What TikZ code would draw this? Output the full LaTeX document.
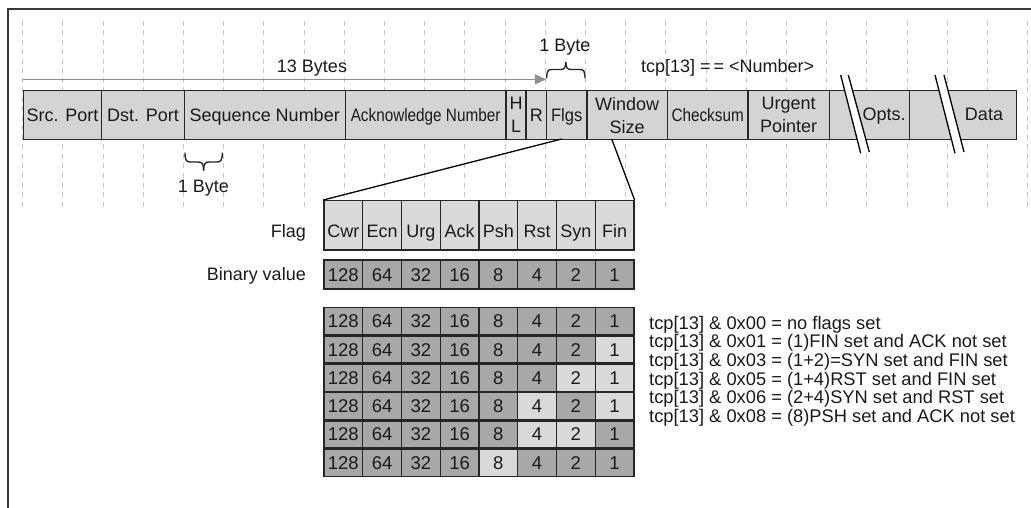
\documentclass[tikz,border=0pt]{standalone}
\usepackage{graphicx}
\usepackage{fontspec}
\setmainfont{Liberation Sans}
\usetikzlibrary{arrows.meta}
\definecolor{barfill}{HTML}{D4D4D4}
\definecolor{lightcell}{HTML}{D9D9D9}
\definecolor{darkcell}{HTML}{A8A8A8}
\definecolor{gridc}{HTML}{C6C6C6}
\definecolor{edge}{HTML}{262626}
\definecolor{arrowc}{HTML}{8E8E8E}
\definecolor{txt}{HTML}{1A1A1A}
\definecolor{framec}{HTML}{3A3A3A}
\newcommand\mainsz{\fontsize{18}{23}\selectfont}
\newcommand\numsz{\fontsize{18.5}{22}\selectfont}
\newcommand\listsz{\fontsize{18.3}{18.75}\selectfont}
\newcommand\narrowtxt[2]{\scalebox{#1}[1]{#2}}
\begin{document}
\begin{tikzpicture}[x=1pt,y=-1pt,
  gridline/.style={draw=gridc, line width=1.1pt, dash pattern=on 5pt off 4.5pt},
  barcell/.style={draw=edge, line width=1.4pt, fill=barfill, anchor=north west, minimum height=49pt, inner sep=0pt, align=center, font=\mainsz, text=txt},
  single/.style={text height=12.9pt, text depth=0pt},
  flagcell/.style={draw=edge, line width=1.3pt, fill=lightcell, anchor=north west, minimum width=38.75pt, minimum height=49.3pt, inner sep=0pt, font=\mainsz, text=txt, text height=36.5pt, text depth=12pt},
  bincell/.style={draw=edge, line width=1.3pt, anchor=north west, minimum width=38.75pt, minimum height=29pt, inner sep=0pt, font=\numsz, text=txt, text height=13.2pt, text depth=0pt},
  rowcell/.style={bincell, minimum height=27pt},
  plaintext/.style={font=\mainsz, text=txt, inner sep=0pt},
  listtext/.style={font=\listsz, text=txt, inner sep=0pt, anchor=base west},
  connector/.style={draw=black, line width=1.3pt},
  brk/.style={draw=black, line width=1.3pt},
  bracepath/.style={draw=edge, line width=1.4pt},
  grayarrow/.style={draw=arrowc, line width=1.3pt, -{Triangle[length=11pt,width=10pt]}}
]
\useasboundingbox (0,0) rectangle (1031,508);

% frame
\draw[framec, line width=2pt] (8,508) -- (8,9) -- (1031,9);

% dashed grid
\foreach \i in {0,...,25}
  \draw[gridline] ({22.7+40.2*\i},21) -- ({22.7+40.2*\i},207);

% header bar
\node[barcell, single, minimum width=78.3pt] (src) at (22.7,90) {Src. Port};
\node[barcell, single, minimum width=82.6pt] (dst) at (101,90) {Dst. Port};
\node[barcell, single, minimum width=160.9pt] (seq) at (183.6,90) {Sequence Number};
\node[barcell, single, minimum width=160.8pt] (ack) at (344.5,90) {\narrowtxt{0.85}{Acknowledge Number}};
\node[barcell, minimum width=20.1pt] (hl) at (505.3,90) {H\\L};
\node[barcell, single, minimum width=20.5pt] (rsv) at (525.4,90) {R};
\node[barcell, single, minimum width=40.3pt] (flgs) at (545.9,90) {\narrowtxt{0.92}{Flgs}};
\node[barcell, minimum width=80.4pt] (win) at (586.2,90) {Window\\Size};
\node[barcell, single, minimum width=80.7pt] (chk) at (666.6,90) {\narrowtxt{0.85}{Checksum}};
\node[barcell, minimum width=81.2pt] (urg) at (747.3,90) {Urgent\\Pointer};
\node[barcell, minimum width=80.3pt] (opts) at (828.5,90) {};
\node[barcell, minimum width=106.7pt] (data) at (908.8,90) {};

% break marks
\fill[white] (840.7,75) -- (848.3,75) -- (869.3,152) -- (860.7,153.3) -- cycle;
\draw[brk] (840.7,75) -- (860.7,153.3);
\draw[brk] (848.3,75) -- (869.3,152);
\fill[white] (935,75) -- (944,75) -- (964,152) -- (955,153.3) -- cycle;
\draw[brk] (935,75) -- (955,153.3);
\draw[brk] (944,75) -- (964,152);
\node[plaintext, single] (optstxt) at (884,114.5) {Opts.};
\node[plaintext, single] (datatxt) at (984,114.5) {Data};

% 13 bytes arrow
\coordinate (arrS) at (22.7,79.3);
\draw[grayarrow] (arrS) -- (flgs.west |- arrS);
\node[plaintext, anchor=base] (bytes13) at (312,73) {13 Bytes};
\node[plaintext, anchor=base] (tcpnum) at (727.7,73) {tcp[13]\kern5pt=\kern3pt=\kern5pt<Number>};

% top brace
\draw[bracepath] (546.7,78.3) .. controls (546.7,71) and (548,69.5) .. (552,69.5) -- (560.5,69.5) .. controls (564,69.5) and (565.8,68) .. (565.8,62);
\draw[bracepath] (585,78.3) .. controls (585,71) and (583.7,69.5) .. (579.6,69.5) -- (571.1,69.5) .. controls (567.6,69.5) and (565.8,68) .. (565.8,62);
\node[plaintext, anchor=base] (byteTop) at (565,51.7) {1 Byte};

% bottom brace
\draw[bracepath] (185,152.7) .. controls (185,160) and (186.3,162) .. (190.3,162) -- (198.3,162) .. controls (201.8,162) and (203.6,163.5) .. (203.6,170.5);
\draw[bracepath] (222.3,152.7) .. controls (222.3,160) and (221,162) .. (217,162) -- (208.9,162) .. controls (205.4,162) and (203.6,163.5) .. (203.6,170.5);
\node[plaintext, anchor=base] (byteBot) at (203.3,193) {1 Byte};

% flag table
\foreach \t [count=\j] in {Cwr,Ecn,Urg,Ack,Psh,Rst,Syn,Fin}
  \node[flagcell] (fl\j) at ({323.3+38.75*(\j-1)},200) {\t};
\foreach \v [count=\j] in {128,64,32,16,8,4,2,1}
  \node[bincell, fill=darkcell] (bv\j) at ({323.3+38.75*(\j-1)},259.3) {\v};
\node[plaintext, anchor=base east] (flaglab) at (306,237) {Flag};
\node[plaintext, anchor=base east] (binlab) at (306,280.5) {Binary value};

% zoom connectors
\coordinate (flgsfoot) at (561.7,139);
\coordinate (winfoot) at (611.7,139);
\draw[connector] (flgsfoot) -- (fl1.north west);
\draw[connector] (winfoot) -- (fl8.north east);

% example rows
\foreach \k/\pat in {1/{0,0,0,0,0,0,0,0},2/{0,0,0,0,0,0,0,1},3/{0,0,0,0,0,0,1,1},4/{0,0,0,0,0,1,0,1},5/{0,0,0,0,0,1,1,0},6/{0,0,0,0,1,0,0,0}}{
  \foreach \p [count=\j] in \pat {
    \pgfmathtruncatemacro\v{2^(8-\j)}
    \ifnum\p=1 \def\fc{lightcell}\else\def\fc{darkcell}\fi
    \node[rowcell, fill=\fc] (r\k-\j) at ({323.3+38.75*(\j-1)},{307+28.3*(\k-1)}) {\v};
  }
}

% descriptions
\node[listtext] (d1) at (649,329) {tcp[13] \& 0x00 = no flags set};
\node[listtext] (d2) at (649,347.7) {tcp[13] \& 0x01 = (1)FIN set and ACK not set};
\node[listtext] (d3) at (649,366.4) {tcp[13] \& 0x03 = (1+2)=SYN set and FIN set};
\node[listtext] (d4) at (649,385.1) {tcp[13] \& 0x05 = (1+4)RST set and FIN set};
\node[listtext] (d5) at (649,403.8) {tcp[13] \& 0x06 = (2+4)SYN set and RST set};
\node[listtext] (d6) at (649,422.5) {tcp[13] \& 0x08 = (8)PSH set and ACK not set};
\end{tikzpicture}
\end{document}
